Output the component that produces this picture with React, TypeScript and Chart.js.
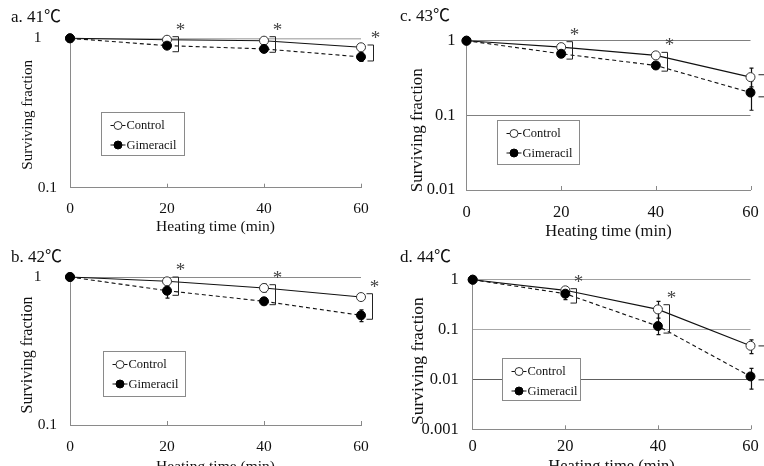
import React, { useEffect, useRef } from "react";
import { Chart, registerables } from "chart.js";

Chart.register(...registerables);

const FONT = "'Liberation Serif', 'Times New Roman', 'Noto Sans CJK JP', serif";

// ---------------- data ----------------
const heatingTimes = [0, 20, 40, 60];
const xTickValues = [0, 20, 40, 60];
const seriesLabels = ["Control", "Gimeracil"];
const xAxisTitle = "Heating time (min)";
const yAxisTitle = "Surviving fraction";

// a. 41℃
const control41 = [1, 0.978, 0.964, 0.871];
const gimeracil41 = [1, 0.893, 0.849, 0.751];
const control41Low = [null, null, null, null];
const control41High = [null, null, null, null];
const gimeracil41Low = [null, 0.86, 0.82, 0.7];
const gimeracil41High = [null, 0.93, 0.88, 0.8];
const sigTimes41 = [20, 40, 60];
const bracketTop41 = [1.025, 1.025, 0.902];
const bracketBottom41 = [0.813, 0.806, 0.705];
const yTicks41 = [0.1, 1];

// b. 42℃
const control42 = [1, 0.935, 0.843, 0.732];
const gimeracil42 = [1, 0.808, 0.685, 0.551];
const control42Low = [null, null, 0.79, null];
const control42High = [null, null, 0.9, null];
const gimeracil42Low = [null, 0.72, 0.65, 0.5];
const gimeracil42High = [null, 0.87, 0.72, 0.6];
const sigTimes42 = [20, 40, 60];
const bracketTop42 = [1.0, 0.887, 0.771];
const bracketBottom42 = [0.752, 0.65, 0.518];
const yTicks42 = [0.1, 1];

// c. 43℃
const control43 = [1, 0.82, 0.636, 0.325];
const gimeracil43 = [1, 0.668, 0.466, 0.202];
const control43Low = [null, null, null, 0.24];
const control43High = [null, null, null, 0.43];
const gimeracil43Low = [null, null, null, 0.117];
const gimeracil43High = [null, null, null, 0.29];
const sigTimes43 = [20, 40, 60];
const bracketTop43 = [0.97, 0.698, 0.35];
const bracketBottom43 = [0.567, 0.391, 0.177];
const yTicks43 = [0.01, 0.1, 1];

// d. 44℃
const control44 = [1, 0.612, 0.254, 0.0473];
const gimeracil44 = [1, 0.524, 0.1175, 0.0115];
const control44Low = [null, null, 0.17, 0.033];
const control44High = [null, null, 0.368, 0.062];
const gimeracil44Low = [null, 0.4, 0.079, 0.0064];
const gimeracil44High = [null, 0.63, 0.232, 0.0167];
const sigTimes44 = [20, 40, 60];
const bracketTop44 = [0.66, 0.315, 0.047];
const bracketBottom44 = [0.34, 0.085, 0.0098];
const yTicks44 = [0.001, 0.01, 0.1, 1];

// ---------------- panels ----------------
type Panel = {
  title: string;
  control: number[];
  gimeracil: number[];
  cLo: (number | null)[];
  cHi: (number | null)[];
  gLo: (number | null)[];
  gHi: (number | null)[];
  sig: number[];
  brTop: number[];
  brBot: number[];
  yTicks: number[];
  starsShown: boolean[];
  layout: any;
};

const panels: Panel[] = [
  {
    title: "a. 41℃",
    control: control41, gimeracil: gimeracil41,
    cLo: control41Low, cHi: control41High, gLo: gimeracil41Low, gHi: gimeracil41High,
    sig: sigTimes41, brTop: bracketTop41, brBot: bracketBottom41, yTicks: yTicks41,
    starsShown: [true, true, true],
    layout: {
      left: 0, top: 0, w: 382, h: 240,
      padL: 11, padR: 21, titleTop: 7, titleBottom: 10.9,
      fs: 15.5, yfs: 15, ySpaces: 1, oneSuffix: "    ",
      yW: 59, yTitlePad: 8, yTickPad: 13, xH: 52.3, xTickPad: 12, xTitlePad: 4,
      gridColors: { 1: "#b8b8b8" }, gridWidths: { 1: 1.5 },
      brGap: [11, 11, 12], brArm: [6, 6, 6], legend: [31, 74, 83, 43],
    },
  },
  {
    title: "b. 42℃",
    control: control42, gimeracil: gimeracil42,
    cLo: control42Low, cHi: control42High, gLo: gimeracil42Low, gHi: gimeracil42High,
    sig: sigTimes42, brTop: bracketTop42, brBot: bracketBottom42, yTicks: yTicks42,
    starsShown: [true, true, true],
    layout: {
      left: 0, top: 240, w: 382, h: 240,
      padL: 11, padR: 21, titleTop: 7.8, titleBottom: 8.8,
      fs: 15.5, yfs: 16, ySpaces: 2, oneSuffix: "    ",
      yW: 59, yTitlePad: 7.4, yTickPad: 13, xH: 55, xTickPad: 12.4, xTitlePad: 3.7,
      gridColors: { 1: "#8a8a8a" }, gridWidths: { 1: 1 },
      brGap: [11, 11, 11], brArm: [6, 6, 6], legend: [33, 74, 82, 45],
    },
  },
  {
    title: "c. 43℃",
    control: control43, gimeracil: gimeracil43,
    cLo: control43Low, cHi: control43High, gLo: gimeracil43Low, gHi: gimeracil43High,
    sig: sigTimes43, brTop: bracketTop43, brBot: bracketBottom43, yTicks: yTicks43,
    starsShown: [true, true, false],
    layout: {
      left: 382, top: 0, w: 382, h: 240,
      padL: 18, padR: 13.5, titleTop: 6.5, titleBottom: 13.8,
      fs: 16.5, yfs: 17, ySpaces: 7, oneSuffix: "",
      yW: 66.5, yTitlePad: 7.8, yTickPad: 11, xH: 50, xTickPad: 13.1, xTitlePad: -1.9,
      gridColors: { 1: "#808080", 0.1: "#808080" }, gridWidths: { 1: 1, 0.1: 1 },
      brGap: [11, 11, 18], brArm: [6, 6, 11], legend: [30, 79, 82, 44],
    },
  },
  {
    title: "d. 44℃",
    control: control44, gimeracil: gimeracil44,
    cLo: control44Low, cHi: control44High, gLo: gimeracil44Low, gHi: gimeracil44High,
    sig: sigTimes44, brTop: bracketTop44, brBot: bracketBottom44, yTicks: yTicks44,
    starsShown: [true, true, false],
    layout: {
      left: 382, top: 240, w: 382, h: 240,
      padL: 18, padR: 13.5, titleTop: 7.8, titleBottom: 11.5,
      fs: 16.5, yfs: 17.5, ySpaces: 3, oneSuffix: "",
      yW: 72.7, yTitlePad: 7.5, yTickPad: 14, xH: 50.7, xTickPad: 7.5, xTitlePad: 3.1,
      gridColors: { 1: "#a0a0a0", 0.1: "#a8a8a8", 0.01: "#606060" }, gridWidths: { 1: 1, 0.1: 1, 0.01: 1 },
      brGap: [11, 11, 18], brArm: [6, 6, 11], legend: [29, 78, 78, 42],
    },
  },
];

function makeAnnotPlugin(p: Panel) {
  const L = p.layout;
  return {
    id: "annot",
    beforeDatasetsDraw(chart: any) {
      const { ctx } = chart;
      const x = chart.scales.x;
      const y = chart.scales.y;
      ctx.save();
      ctx.strokeStyle = "#111";
      ctx.lineWidth = 1.2;
      const bars = [
        [p.cLo, p.cHi],
        [p.gLo, p.gHi],
      ];
      for (const [lo, hi] of bars) {
        heatingTimes.forEach((t, i) => {
          const a = lo[i];
          const b = hi[i];
          if (a == null || b == null) return;
          const px = Math.round(x.getPixelForValue(t)) + 0.5;
          const p1 = y.getPixelForValue(a);
          const p2 = y.getPixelForValue(b);
          ctx.beginPath();
          ctx.moveTo(px, p1);
          ctx.lineTo(px, p2);
          ctx.moveTo(px - 2, p1);
          ctx.lineTo(px + 2, p1);
          ctx.moveTo(px - 2, p2);
          ctx.lineTo(px + 2, p2);
          ctx.stroke();
        });
      }
      ctx.restore();
    },
    afterDraw(chart: any) {
      const { ctx, chartArea } = chart;
      const x = chart.scales.x;
      const y = chart.scales.y;
      ctx.save();
      // inner tick marks on x axis
      ctx.strokeStyle = "#888";
      ctx.lineWidth = 1;
      xTickValues.forEach((v) => {
        if (v === 0) return;
        const px = Math.round(x.getPixelForValue(v)) + 0.5;
        ctx.beginPath();
        ctx.moveTo(px, chartArea.bottom);
        ctx.lineTo(px, chartArea.bottom - 4);
        ctx.stroke();
      });
      // brackets and asterisks
      p.sig.forEach((t, i) => {
        const bx = Math.round(x.getPixelForValue(t) + L.brGap[i]) + 0.5;
        const top = y.getPixelForValue(p.brTop[i]);
        const bot = y.getPixelForValue(p.brBot[i]);
        const arm = L.brArm[i];
        ctx.strokeStyle = "#222";
        ctx.lineWidth = 1;
        ctx.beginPath();
        ctx.moveTo(bx - arm, top);
        ctx.lineTo(bx, top);
        ctx.lineTo(bx, bot);
        ctx.lineTo(bx - arm, bot);
        ctx.stroke();
        if (p.starsShown[i]) {
          ctx.fillStyle = "#444";
          ctx.font = `19px ${FONT}`;
          ctx.textAlign = "center";
          ctx.textBaseline = "alphabetic";
          ctx.fillText("*", bx + 2, top - 11 + 10);
        }
      });
      // legend box
      const [lx, ly, lw, lh] = L.legend;
      const bx0 = Math.round(chartArea.left + lx) + 0.5;
      const by0 = Math.round(chartArea.top + ly) + 0.5;
      ctx.strokeStyle = "#8a8a8a";
      ctx.lineWidth = 1;
      ctx.fillStyle = "#fff";
      ctx.fillRect(bx0, by0, lw, lh);
      ctx.strokeRect(bx0, by0, lw, lh);
      chart.data.datasets.forEach((ds: any, i: number) => {
        const yc = by0 + 13 + 19.5 * i;
        ctx.strokeStyle = "#111";
        ctx.beginPath();
        ctx.moveTo(bx0 + 9, yc);
        ctx.lineTo(bx0 + 24, yc);
        ctx.stroke();
        ctx.beginPath();
        ctx.arc(bx0 + 16.5, yc, 4, 0, Math.PI * 2);
        ctx.fillStyle = ds.pointBackgroundColor;
        ctx.fill();
        ctx.strokeStyle = ds.pointBorderColor;
        ctx.stroke();
        ctx.fillStyle = "#111";
        ctx.font = `12.5px ${FONT}`;
        ctx.textAlign = "left";
        ctx.textBaseline = "middle";
        ctx.fillText(ds.label, bx0 + 25, yc + 0.5);
      });
      ctx.restore();
    },
  };
}

function PanelChart({ p }: { p: Panel }) {
  const ref = useRef<HTMLCanvasElement | null>(null);
  useEffect(() => {
    const L = p.layout;
    const canvas = ref.current!;
    const yMin = p.yTicks[0];
    const chart = new Chart(canvas, {
      type: "line",
      data: {
        datasets: [
          {
            label: seriesLabels[0],
            data: heatingTimes.map((t, i) => ({ x: t, y: p.control[i] })),
            borderColor: "#111",
            borderWidth: 1.1,
            pointRadius: 4.5,
            pointBackgroundColor: "#ffffff",
            pointBorderColor: "#333",
            pointBorderWidth: 1,
            tension: 0,
            clip: false,
            order: 1,
          } as any,
          {
            label: seriesLabels[1],
            data: heatingTimes.map((t, i) => ({ x: t, y: p.gimeracil[i] })),
            borderColor: "#111",
            borderWidth: 1.1,
            borderDash: [4, 3],
            pointRadius: 4.5,
            pointBackgroundColor: "#000000",
            pointBorderColor: "#000000",
            pointBorderWidth: 1,
            tension: 0,
            clip: false,
            order: 0,
          } as any,
        ],
      },
      options: {
        responsive: false,
        animation: false,
        events: [],
        layout: { padding: { left: L.padL, right: L.padR, top: 0, bottom: 0 } },
        plugins: {
          legend: { display: false },
          tooltip: { enabled: false },
          title: {
            display: true,
            text: p.title,
            align: "start",
            color: "#111",
            font: { family: FONT, size: 17, weight: "normal" },
            padding: { top: L.titleTop, bottom: L.titleBottom },
          },
        },
        scales: {
          x: {
            type: "linear",
            min: 0,
            max: 60,
            afterBuildTicks: (s: any) => {
              s.ticks = xTickValues.map((v) => ({ value: v }));
            },
            afterFit: (s: any) => {
              s.height = L.xH;
              s.paddingLeft = 0;
              s.paddingRight = 0;
            },
            grid: { display: true, drawOnChartArea: false, drawTicks: false },
            border: { display: true, color: "#8a8a8a", width: 1 },
            ticks: {
              padding: L.xTickPad,
              color: "#111",
              font: { family: FONT, size: L.fs },
              maxRotation: 0,
              autoSkip: false,
            },
            title: {
              display: true,
              text: xAxisTitle,
              color: "#111",
              font: { family: FONT, size: L.fs },
              padding: { top: 0, bottom: L.xTitlePad },
            },
          },
          y: {
            type: "logarithmic",
            min: yMin,
            max: 1,
            afterBuildTicks: (s: any) => {
              s.ticks = p.yTicks.map((v) => ({ value: v }));
            },
            afterFit: (s: any) => {
              s.width = L.yW;
              s.paddingTop = 0;
              s.paddingBottom = 0;
            },
            grid: {
              drawTicks: false,
              color: (c: any) => {
                const v = c.tick ? c.tick.value : null;
                if (v == null || v === yMin) return "rgba(0,0,0,0)";
                return L.gridColors[v] || "rgba(0,0,0,0)";
              },
              lineWidth: (c: any) => {
                const v = c.tick ? c.tick.value : null;
                return (v != null && L.gridWidths[v]) || 1;
              },
            },
            border: { display: true, color: "#8a8a8a", width: 1 },
            ticks: {
              padding: L.yTickPad,
              color: "#111",
              font: { family: FONT, size: L.fs },
              autoSkip: false,
              callback: (v: any) => (v === 1 ? "1" + L.oneSuffix : String(v)),
            },
            title: {
              display: true,
              text: yAxisTitle + " ".repeat(L.ySpaces),
              color: "#111",
              font: { family: FONT, size: L.yfs },
              padding: { top: L.yTitlePad, bottom: 0 },
            },
          },
        },
      } as any,
      plugins: [makeAnnotPlugin(p)],
    });
    return () => chart.destroy();
  }, [p]);
  const L = p.layout;
  return (
    <canvas
      ref={ref}
      width={L.w}
      height={L.h}
      style={{ position: "absolute", left: L.left, top: L.top, width: L.w, height: L.h }}
    />
  );
}

export default function App() {
  return (
    <div
      style={{
        position: "absolute",
        left: 0,
        top: 0,
        width: 764,
        height: 466,
        overflow: "hidden",
        background: "#ffffff",
      }}
    >
      {panels.map((p, i) => (
        <PanelChart key={i} p={p} />
      ))}
    </div>
  );
}
